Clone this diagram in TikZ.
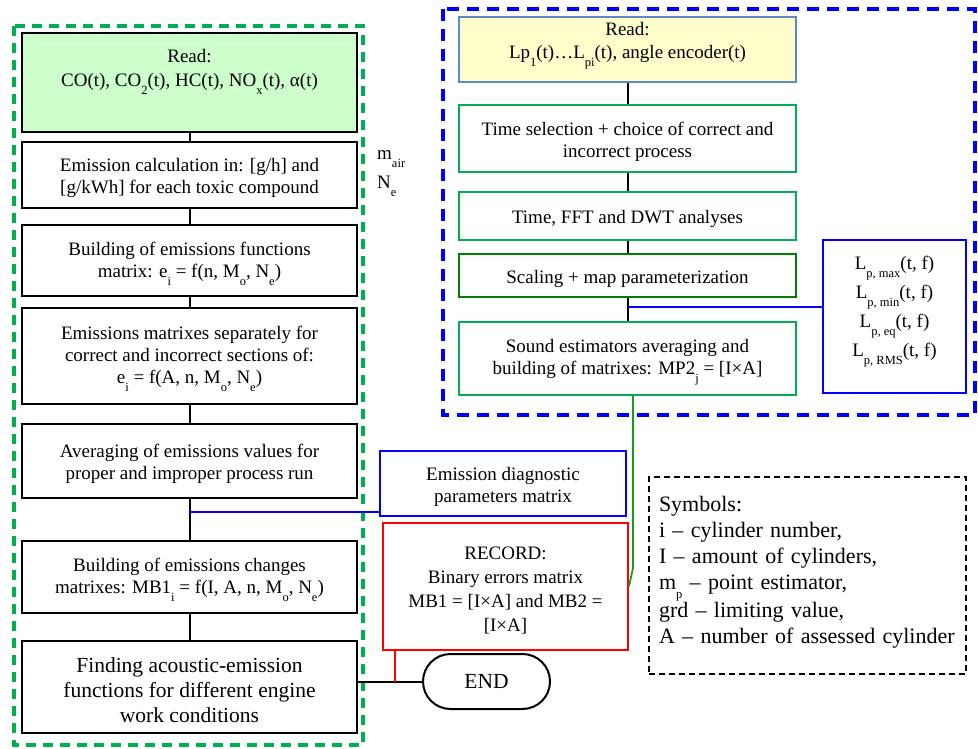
\documentclass[tikz,border=0pt]{standalone}
\usepackage{fontspec}
\setmainfont{Liberation Serif}
\usetikzlibrary{calc}
\definecolor{dgreen}{HTML}{00B050}
\definecolor{lgreen}{HTML}{CCFFCC}
\definecolor{lyellow}{HTML}{FFFFCC}
\definecolor{steel}{HTML}{5B8AC6}
\definecolor{mgreen}{HTML}{008000}
\definecolor{cgreen}{HTML}{1A9A1A}
\definecolor{pblue}{HTML}{0000FF}
\definecolor{pred}{HTML}{FF0000}
\newcommand\sbs[1]{\raisebox{-0.42em}{\fontsize{12.5}{12.5}\selectfont #1}}
\newcommand\topstrut[1]{\rule{0pt}{#1}}
\begin{document}
\begin{tikzpicture}[x=1pt,y=-1pt,
  every node/.style={font=\fontsize{19}{22}\selectfont},
  box/.style={draw=black, line width=2pt, align=center, inner sep=0pt},
  lbox/.style={box, minimum width=335pt},
  rbox/.style={box, draw=dgreen, minimum width=337pt},
  txt/.style={align=center, inner sep=0pt},
  conn/.style={line width=2pt, draw=black},
  bconn/.style={line width=1.6pt, draw=pblue},
  gconn/.style={line width=1.8pt, draw=cgreen},
  rconn/.style={line width=1.8pt, draw=pred}]
\useasboundingbox (0,0) rectangle (978,749);

% frames
\draw[dgreen, line width=4pt, dash pattern=on 10pt off 7pt] (14,26) rectangle (363,745);
\draw[pblue, line width=4pt, dash pattern=on 12pt off 8pt] (443,9) rectangle (975,415);

% left column
\node[lbox, fill=lgreen, minimum height=99pt] (b1) at (189.5,82.5) {};
\node[txt] (t1) at (189.5,72) {Read:\\[2pt]CO(t), CO\sbs{2}(t), HC(t), NO\sbs{x}(t), α(t)};
\node[lbox, minimum height=66pt] (b2) at (189.5,175) {\topstrut{19.5pt}Emission calculation in: [g/h] and\\\relax [g/kWh] for each toxic compound};
\node[lbox, minimum height=71pt] (b3) at (189.5,260.5) {\topstrut{19.5pt}Building of emissions functions\\matrix: e\sbs{i} = f(n, M\sbs{o}, N\sbs{e})};
\node[lbox, minimum height=96pt] (b4) at (189.5,356) {\topstrut{19.5pt}Emissions matrixes separately for\\correct and incorrect sections of:\\e\sbs{i} = f(A, n, M\sbs{o}, N\sbs{e})};
\node[lbox, minimum height=74pt] (b5) at (189.5,461) {\topstrut{19.5pt}Averaging of emissions values for\\proper and improper process run};
\node[lbox, minimum height=72pt] (b6) at (189.5,577) {\topstrut{19.5pt}Building of emissions changes\\matrixes: MB1\sbs{i} = f(I, A, n, M\sbs{o}, N\sbs{e})};
\node[lbox, minimum height=92pt, font=\fontsize{21.5}{25}\selectfont] (b7) at (189.5,687) {\topstrut{21.5pt}Finding acoustic-emission\\functions for different engine\\work conditions};

\node[anchor=base west, inner sep=0pt] (mair) at (377,160) {m\sbs{air}};
\node[anchor=base west, inner sep=0pt] (ne) at (377,189) {N\sbs{e}};

% right column
\node[rbox, draw=steel, fill=lyellow, minimum height=65pt] (r1) at (627.5,49.5) {};
\node[txt] (t2) at (627.5,46) {Read:\\[1pt]Lp\sbs{1}(t)…L\sbs{pi}(t), angle encoder(t)};
\node[rbox, minimum height=67pt] (r2) at (627.5,138.5) {\topstrut{19.5pt}Time selection + choice of correct and\\incorrect process};
\node[rbox, minimum height=48pt] (r3) at (627.5,216) {\topstrut{19.5pt}Time, FFT and DWT analyses};
\node[rbox, draw=mgreen, line width=2.4pt, minimum height=43pt] (r4) at (627.5,275.5) {\topstrut{20pt}Scaling + map parameterization};
\node[rbox, minimum height=73pt] (r5) at (627.5,358.5) {\topstrut{20pt}Sound estimators averaging and\\building of matrixes: MP2\sbs{j} = [I×A]};

\node[box, draw=pblue, minimum width=143pt, minimum height=153pt, font=\fontsize{19}{29}\selectfont] (lb) at (894.5,316.5) {L\sbs{p, max}(t, f)\\L\sbs{p, min}(t, f)\\L\sbs{p, eq}(t, f)\\L\sbs{p, RMS}(t, f)\rule[-20pt]{0pt}{20pt}};

\node[box, draw=pblue, minimum width=246pt, minimum height=65pt] (ed) at (503,483.5) {\topstrut{19.5pt}Emission diagnostic\\parameters matrix};
\node[box, draw=pred, minimum width=245pt, minimum height=127pt, font=\fontsize{19}{24}\selectfont] (rec) at (505.5,586.5) {\topstrut{21.5pt}RECORD:\\Binary errors matrix\\MB1 = [I×A] and MB2 =\\\relax [I×A]};
\node[box, minimum width=127pt, minimum height=55pt, rounded corners=27.5pt, font=\fontsize{21.5}{25}\selectfont] (endn) at (486.5,681.5) {END};

\node[draw, line width=1.6pt, dash pattern=on 6pt off 4pt, align=left, text width=297pt, inner xsep=10pt, inner ysep=0pt, minimum height=197pt, font=\fontsize{22}{26}\selectfont] (sym) at (807.5,575.5) {Symbols:\\i – cylinder number,\\I – amount of cylinders,\\m\sbs{p} – point estimator,\\grd – limiting value,\\A – number of assessed cylinder\rule[-12pt]{0pt}{12pt}};

% connectors left
\draw[conn] (b1) -- (b2);
\draw[conn] (b2) -- (b3);
\draw[conn] (b3) -- (b4);
\draw[conn] (b4) -- (b5);
\draw[conn] (b5) -- (b6);
\draw[conn] (b6) -- (b7);
\coordinate (j1) at (189.5,512);
\draw[bconn] (j1) -- (j1 -| ed.west);
\draw[conn] (b7.east |- endn.west) -- (endn.west);
\coordinate (rj) at (395,681.5);
\draw[rconn] (rec.south -| rj) -- (rj);

% connectors right
\draw[conn] (r1) -- (r2);
\draw[conn] (r2) -- (r3);
\draw[conn] (r3) -- (r4);
\draw[conn] (r4) -- (r5);
\coordinate (j2) at (627.5,307);
\draw[bconn] (j2) -- (j2 -| lb.west);
\coordinate (g1) at (633,568);
\draw[gconn] ([xshift=5.5pt]r5.south) -- (g1) -- (rec.east);
\end{tikzpicture}
\end{document}
